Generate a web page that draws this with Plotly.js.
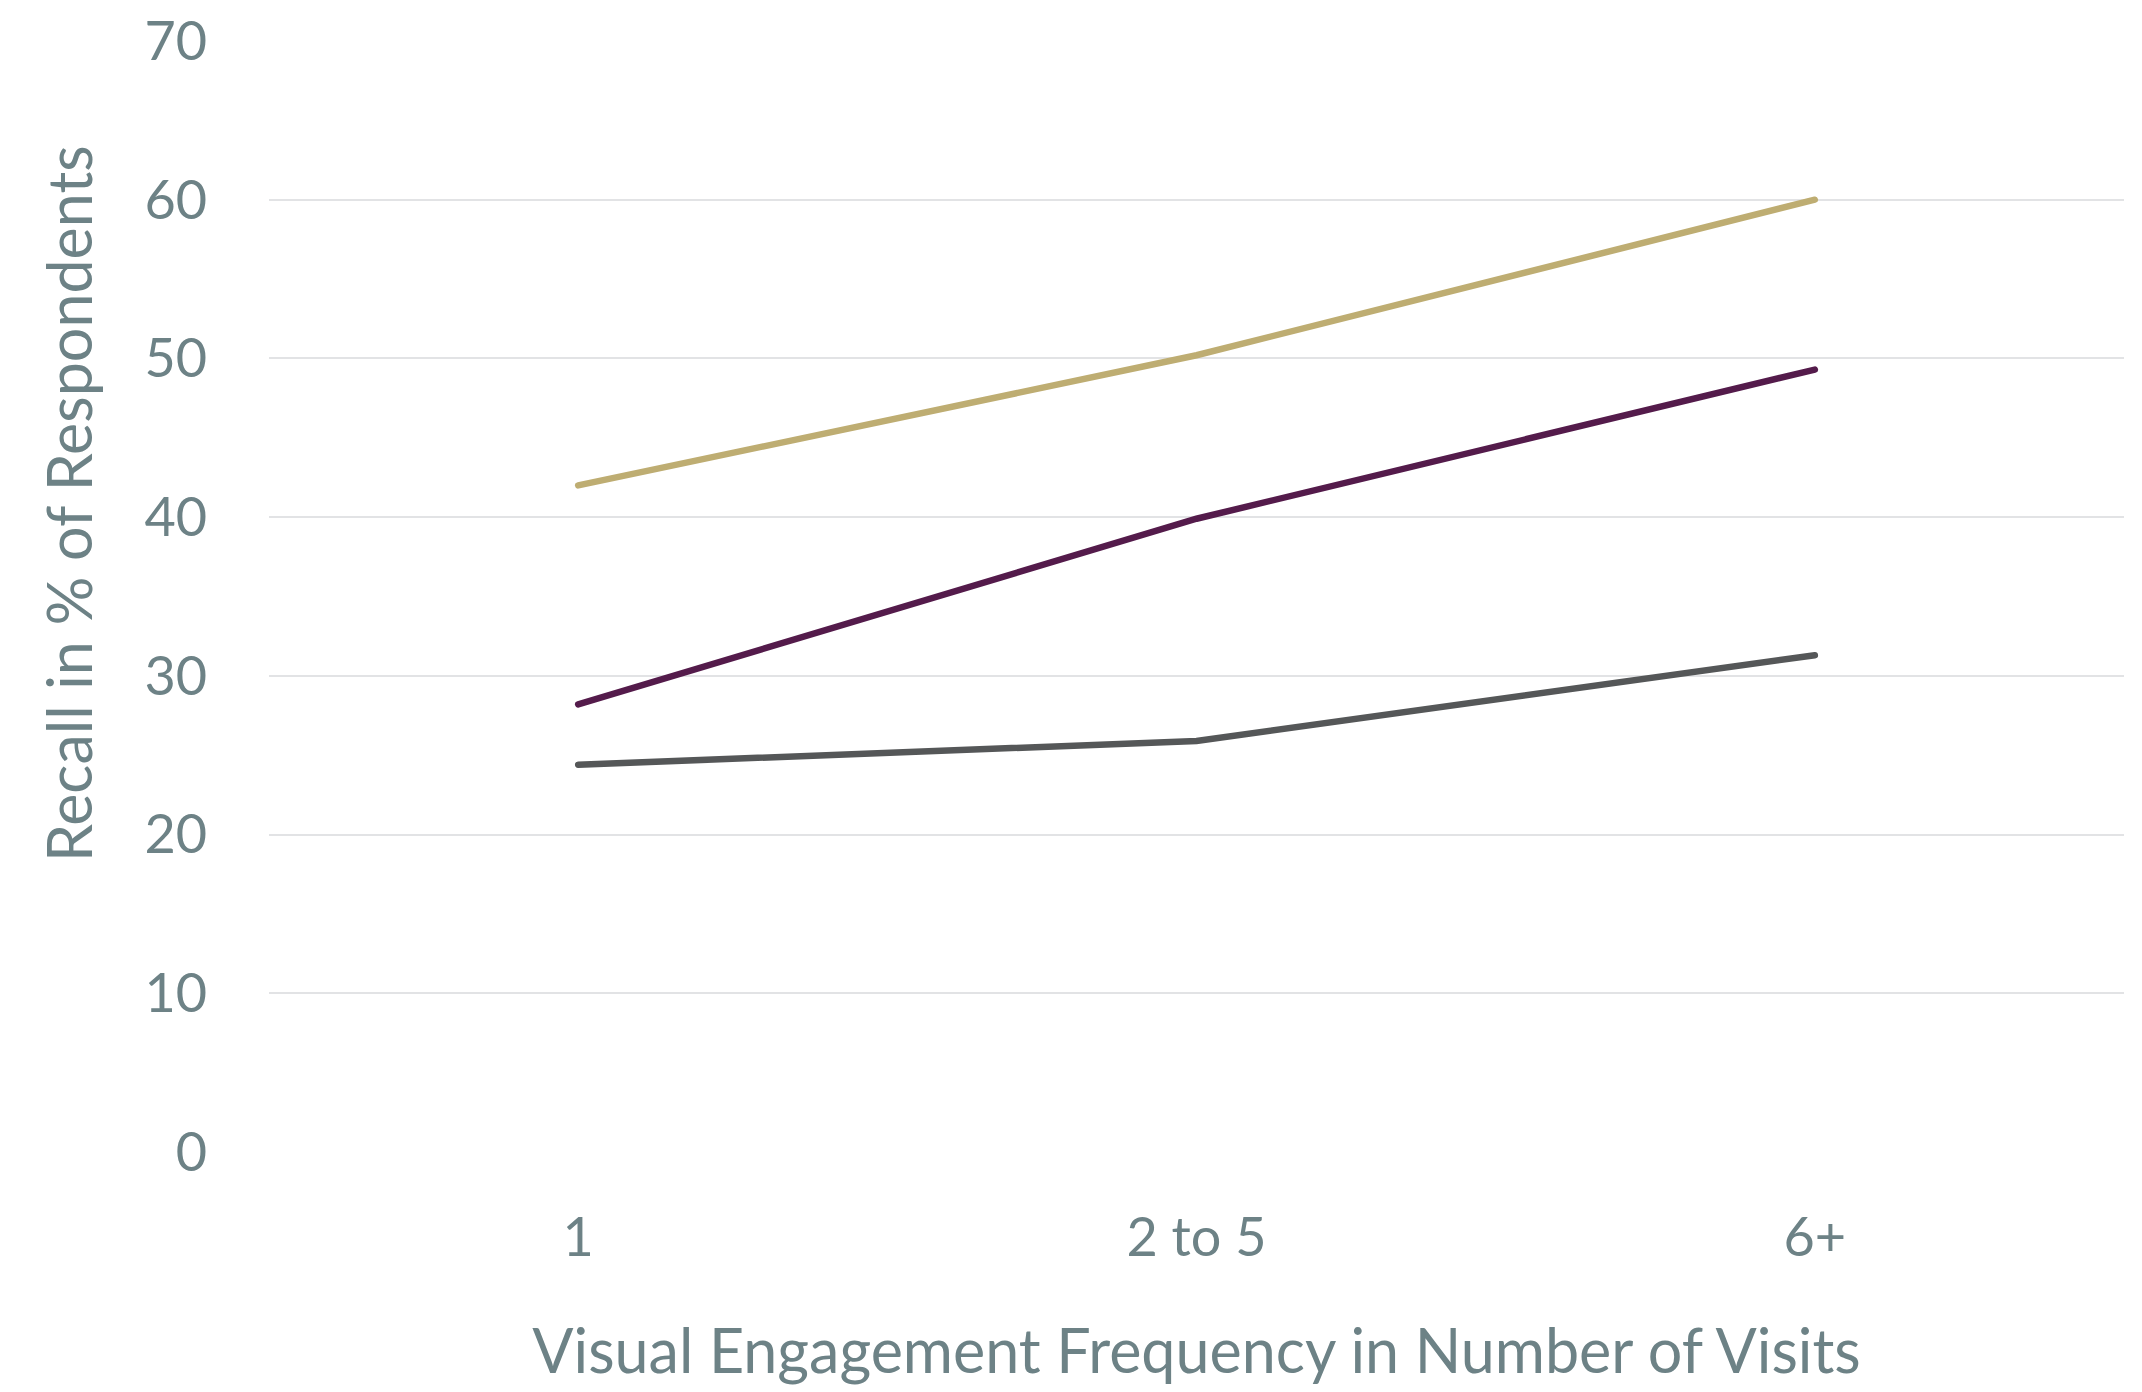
<!DOCTYPE html>
<html>
<head>
<meta charset="utf-8">
<script src="https://cdn.plot.ly/plotly-3.0.1.min.js"></script>
<style>html,body{margin:0;padding:0;background:#fff;}#chart{width:2142px;height:1392px;}#chart .js-line{stroke-linecap:round;}</style>
</head>
<body>
<div id="chart"></div>
<script>
const categories = ["1", "2 to 5", "6+"];
const seriesGold = [42.0, 50.2, 60.0];
const seriesPurple = [28.2, 39.9, 49.3];
const seriesGray = [24.4, 25.9, 31.3];
const yTickValues = [0, 10, 20, 30, 40, 50, 60, 70];
const xTitle = "Visual Engagement Frequency in Number of Visits";
const yTitle = "Recall in % of Respondents";

const textColor = "#6d8286";
const fontFamily = "Lato, 'Open Sans', sans-serif";

function line(y, color) {
  return {
    type: "scatter", mode: "lines", x: categories, y: y,
    line: {color: color, width: 6.5}, hoverinfo: "skip", showlegend: false
  };
}

const data = [line(seriesGray, "#555758"), line(seriesPurple, "#541b4b"), line(seriesGold, "#bead72")];

const layout = {
  width: 2142, height: 1392,
  margin: {l: 269, r: 18, t: 41, b: 240, pad: 0},
  paper_bgcolor: "#ffffff", plot_bgcolor: "#ffffff",
  font: {family: fontFamily, color: textColor, size: 54},
  showlegend: false,
  xaxis: {
    type: "category", range: [-0.5, 2.5],
    showgrid: false, zeroline: false, showline: false,
    ticks: "outside", ticklen: 38, tickcolor: "rgba(0,0,0,0)",
    tickfont: {family: fontFamily, size: 54, color: textColor},
    title: {text: xTitle, font: {family: fontFamily, size: 61, color: textColor}, standoff: 63}
  },
  yaxis: {
    range: [0, 70], tickvals: yTickValues,
    showgrid: true, gridcolor: "#e2e3e5", gridwidth: 2,
    zeroline: false, showline: false,
    ticks: "outside", ticklen: 50, tickcolor: "rgba(0,0,0,0)",
    tickfont: {family: fontFamily, size: 54, color: textColor}
  },
  annotations: [{
    text: yTitle, xref: "paper", yref: "paper", x: -0.1084, y: 0.584,
    xanchor: "center", yanchor: "middle", textangle: -90, showarrow: false,
    font: {family: fontFamily, size: 61, color: textColor}
  }]
};

Plotly.newPlot("chart", data, layout, {displayModeBar: false, staticPlot: true});
</script>
</body>
</html>
